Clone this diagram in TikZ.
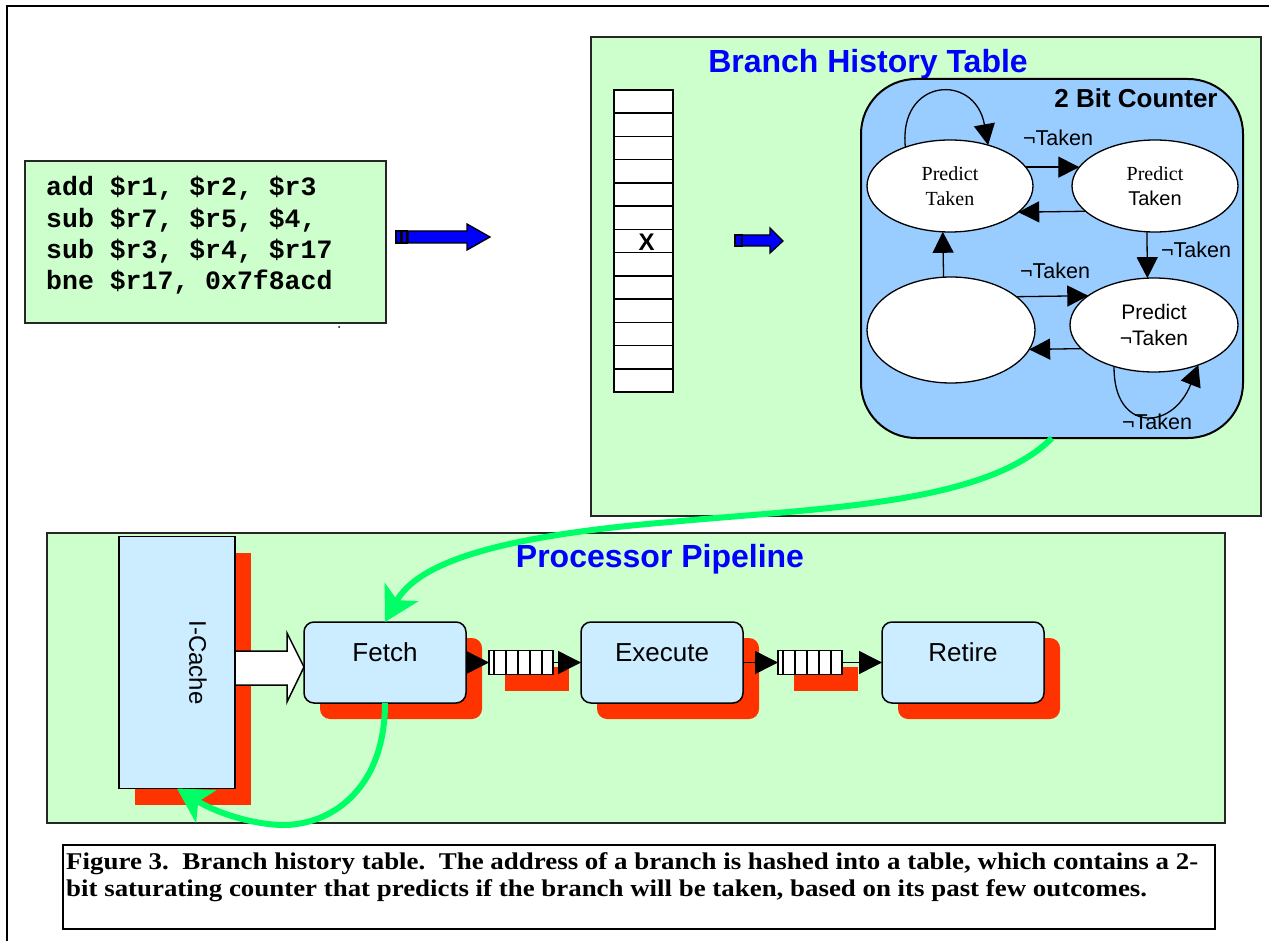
\documentclass[tikz,border=0pt]{standalone}
\usepackage{graphicx}
\usepackage{fontspec}
\setmainfont{Liberation Serif}
\setsansfont{Liberation Sans}
\setmonofont{Liberation Mono}
\usetikzlibrary{shapes.geometric,arrows.meta,shadows}

\definecolor{bggreen}{HTML}{CCFFCC}
\definecolor{ctrblue}{HTML}{99CCFF}
\definecolor{boxblue}{HTML}{CCECFF}
\definecolor{shred}{HTML}{FF3300}
\definecolor{arrgreen}{HTML}{00FF66}
\definecolor{titleblue}{HTML}{0000FF}
\newcommand\setfs[2]{\fontsize{#1pt}{#2pt}\selectfont}

\begin{document}
\begin{tikzpicture}[x=1pt,y=-1pt,
  panel/.style={draw=black!85, line width=1.4pt, fill=bggreen, inner sep=0pt, outer sep=0pt},
  codeline/.style={anchor=base west, inner sep=0pt, font=\ttfamily\bfseries\setfs{26.5}{31}},
  blu/.style={draw=black, line width=1.3pt, fill=titleblue},
  title/.style={anchor=base, inner sep=0pt, text=titleblue, font=\sffamily\bfseries\setfs{32}{32}},
  state/.style={ellipse, draw, line width=1.3pt, fill=white, inner sep=0pt, outer sep=0pt, align=center},
  sarr/.style={line width=1.3pt, -{Triangle[length=21pt,width=21pt]}},
  lbl/.style={anchor=base, inner sep=0pt, font=\sffamily\setfs{21.5}{21.5}},
  redshade/.style={drop shadow={shadow xshift=16pt, shadow yshift=-16pt, fill=shred, opacity=1}},
  pbox/.style={draw, line width=1.5pt, fill=boxblue, rounded corners=10pt, inner sep=0pt, outer sep=0pt,
    minimum width=162, minimum height=81, font=\sffamily\setfs{26}{26},
    text height=20pt, text depth=23pt, redshade},
  queue/.style={draw, line width=1.5pt, fill=white, inner sep=0pt, outer sep=0pt,
    minimum width=64, minimum height=24, redshade},
  parr/.style={line width=1.5pt, -{Triangle[length=23pt,width=23pt]}},
  garr/.style={draw=arrgreen, line width=6pt, -{Stealth[length=34pt,width=38pt,inset=9pt]}},
  captxt/.style={anchor=base west, inner sep=0pt, font=\rmfamily\bfseries\setfs{24}{24}}
]
\useasboundingbox (0,0) rectangle (1269,941);

% frame of the figure
\draw[line width=2pt] (7,941) -- (7,6) -- (1269,6);

% green panels
\node[panel, minimum width=670, minimum height=479] (bhtbox) at (926,276.5) {};
\node[panel, minimum width=1178, minimum height=290] (pipebox) at (636,678) {};

% instruction listing
\node[panel, line width=2pt, minimum width=361, minimum height=162] (code) at (205.5,242) {};
\node[codeline] at ([shift={(21,35)}]code.north west) {add \$r1, \$r2, \$r3};
\node[codeline] at ([shift={(21,66.3)}]code.north west) {sub \$r7, \$r5, \$4,};
\node[codeline] at ([shift={(21,97.6)}]code.north west) {sub \$r3, \$r4, \$r17};
\node[codeline] at ([shift={(21,129)}]code.north west) {bne \$r17, 0x7f8acd};
\fill (339,327) circle (1);

% blue arrow: listing to table
\draw[blu] (396,231) rectangle (401,243);
\draw[blu] (402,231) rectangle (407,243);
\draw[blu] (408,231) -- (467,231) -- (467,224) -- (490,237) -- (467,250) -- (467,243) -- (408,243) -- cycle;

% titles
\node[title] (bhttitle) at (868,73) {Branch History Table};
\node[title] (pipetitle) at (660,567) {Processor Pipeline};

% the table
\node[draw, line width=1.5pt, fill=white, inner sep=0pt, outer sep=0pt,
      minimum width=59, minimum height=302] (bht) at (643.5,241) {};
\foreach \i in {1,...,12}
  \draw[line width=1.5pt] (bht.north west) ++(0,\i*23.23) -- ++(59,0);
\node[inner sep=0pt, font=\sffamily\bfseries\setfs{24}{24}] (mark) at ([shift={(3,1)}]bht.center) {X};

% blue arrow: table to counter
\draw[blu] (735,235) rectangle (742,246);
\draw[blu] (742,235) -- (770,235) -- (770,228) -- (783,241) -- (770,253) -- (770,246) -- (742,246) -- cycle;

% 2 bit counter
\node[draw, line width=2pt, fill=ctrblue, rounded corners=55pt, inner sep=0pt, outer sep=0pt,
      minimum width=382, minimum height=359] (cnt) at (1052,258.5) {};
\node[anchor=base, inner sep=0pt, font=\sffamily\bfseries\setfs{26}{26}] (cnttitle) at (1136,108) {2 Bit Counter};

\node[state, minimum width=166, minimum height=92, font=\rmfamily\setfs{20}{25}] (e1) at (950,186) {Predict\\Taken};
\node[state, minimum width=166, minimum height=92, font=\rmfamily\setfs{20}{25}] (e2) at (1155,186) {Predict\\{\sffamily Taken}};
\node[state, minimum width=168, minimum height=106] (e3) at (951,330) {};
\node[state, minimum width=168, minimum height=94, font=\sffamily\setfs{21}{26}] (e4) at (1154,325) {Predict\\¬Taken};

\draw[sarr] (e1.139) .. controls (898,78) and (975,72) .. (e1.47);
\draw[sarr] (e1.14) -- (e2.166);
\draw[sarr] (e2.200.8) -- (e1.339.2);
\draw[sarr] (e2.260) -- (e4.98.5);
\draw[sarr] (e3.98.6) -- (e1.261.3);
\draw[sarr] (e3.27.8) -- (e4.156.3);
\draw[sarr] (e4.198.4) -- (e3.346.4);
\draw[sarr] (e4.226) .. controls (1113,432) and (1172,432) .. (e4.-42);

\node[lbl] at (1058,146) {¬Taken};
\node[lbl] at (1196,258) {¬Taken};
\node[lbl] at (1055,279) {¬Taken};
\node[lbl] at (1157,429) {¬Taken};

% pipeline
\node[pbox, rounded corners=0pt, minimum width=116, minimum height=252, text height=, text depth=,
      font=\sffamily\setfs{24}{24}] (icache) at (177,662.5) {\hspace*{42pt}\rotatebox{-90}{I-Cache}};
\node[pbox] (fetch) at (385,662.5) {Fetch};
\node[pbox] (exec) at (662,662.5) {Execute};
\node[pbox] (retire) at (963,662.5) {Retire};
\node[queue] (q1) at (521,662.5) {};
\node[queue] (q2) at (810,662.5) {};
\foreach \q in {q1,q2}
  \foreach \d in {5,17,29,41,53}
    \draw[line width=1.5pt] (\q.north west) ++(\d,0) -- ++(0,24);

\draw[parr] (fetch.east) -- (q1.west);
\draw[parr] (q1.east) -- (exec.west);
\draw[parr] (exec.east) -- (q2.west);
\draw[parr] (q2.east) -- (retire.west);

% wide arrow from the cache into fetch
\draw[line width=1.5pt, fill=white] (235,651) -- (287,651) -- (287,633) -- (304,667)
  -- (287,702) -- (287,685) -- (235,685) -- cycle;

% prediction and fetch feedback
\draw[garr] (cnt.south) .. controls (985,505) and (820,508) .. (670,522)
  .. controls (500,536) and (418,562) .. (fetch.north);
\draw[garr] (fetch.south) .. controls (385,790) and (330,826) .. (281,825)
  .. controls (250,824) and (215,812) .. (icache.south);

% caption
\node[draw, line width=1.8pt, fill=white, minimum width=1152, minimum height=84, inner sep=0pt, outer sep=0pt] (cap) at (639,887) {};
\node[captxt] at ([shift={(3,24)}]cap.north west)
  {\resizebox{1132pt}{\height}{Figure 3.~~Branch history table.~~The address of a branch is hashed into a table, which contains a 2-}};
\node[captxt] at ([shift={(3,51)}]cap.north west)
  {\resizebox{1081pt}{\height}{bit saturating counter that predicts if the branch will be taken, based on its past few outcomes.}};
\end{tikzpicture}
\end{document}
